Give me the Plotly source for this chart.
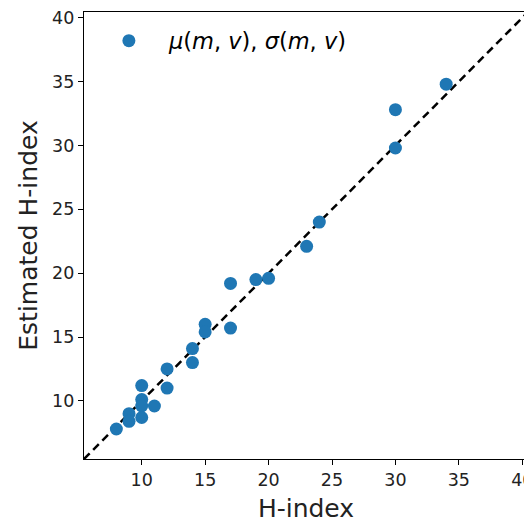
import plotly.graph_objects as go

h_index = [34, 30, 30, 24, 23, 20, 19, 17, 17, 15, 15, 14, 14, 12, 12, 10, 10, 10, 10, 11, 9, 9, 8]
estimated = [34.8, 32.8, 29.8, 24.0, 22.1, 19.6, 19.5, 19.2, 15.7, 16.0, 15.4, 14.1, 13.0, 12.5, 11.0,
             11.2, 10.1, 9.6, 8.7, 9.6, 9.0, 8.4, 7.8]
axis_range = [5.45, 40.45]
tick_vals = [10, 15, 20, 25, 30, 35, 40]

fig = go.Figure()
fig.add_trace(go.Scatter(
    x=axis_range, y=axis_range, mode="lines",
    line=dict(color="black", width=2.5, dash="8px,5px"),
    showlegend=False, hoverinfo="skip", cliponaxis=False))
fig.add_trace(go.Scatter(
    x=h_index, y=estimated, mode="markers",
    marker=dict(color="#1f77b4", size=13),
    name="<i>μ</i>(<i>m</i>, <i>v</i>), <i>σ</i>(<i>m</i>, <i>v</i>)"))

font = "DejaVu Sans"
axis_common = dict(
    range=axis_range, tickvals=tick_vals, ticks="outside", ticklen=5, tickwidth=1.2,
    tickcolor="black", showline=True, linecolor="black", linewidth=1.3, mirror=True,
    showgrid=False, zeroline=False, automargin=False, ticklabeloverflow="allow",
    tickfont=dict(family=font, size=17.5, color="#222"))

fig.update_layout(
    width=524, height=515, margin=dict(l=76, r=4, t=4, b=64),
    plot_bgcolor="white", paper_bgcolor="white",
    xaxis=dict(axis_common, title=dict(text="H-index", font=dict(family=font, size=25, color="#222"), standoff=11)),
    yaxis=dict(axis_common, title=dict(text="Estimated H-index", font=dict(family=font, size=25, color="#222"), standoff=7)),
    legend=dict(x=0.011, y=0.935, xanchor="left", yanchor="middle", itemwidth=70,
                font=dict(family=font, size=22.5, color="black"), bgcolor="rgba(0,0,0,0)"),
)
fig.write_html("out.html")
